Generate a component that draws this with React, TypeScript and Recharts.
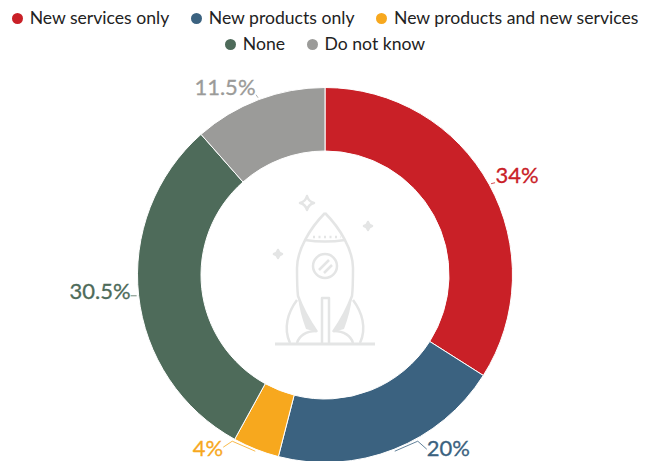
import { PieChart, Pie, Cell, Legend } from 'recharts';

const categories = ['New services only', 'New products only', 'New products and new services', 'None', 'Do not know'];
const values = [34, 20, 4, 30.5, 11.5];
const valueLabels = ['34%', '20%', '4%', '30.5%', '11.5%'];
const COLORS = ['#c92027', '#3b6280', '#f7a81e', '#4e6b5a', '#9b9b99'];

const data = categories.map((name, i) => ({ name, value: values[i], label: valueLabels[i] }));

const RADIAN = Math.PI / 180;
const FONT = 'Lato, sans-serif';
const ROCKET = '#e4e5e5';

// leader line bends and text placement, relative to the slice's outer edge midpoint
const leaders = [
    { line: [[4, -1]], text: [4.5, -9], anchor: 'start' },
    { line: [[23, -10], [32, -2]], text: [32, -3.5], anchor: 'start' },
    { line: [[-23, -10], [-32, -4]], text: [-32, -3.5], anchor: 'end' },
    { line: [[-6, 0]], text: [-6, -5.5], anchor: 'end' },
    { line: [[-2, -3]], text: [-2.5, -11], anchor: 'end' },
];

const renderLabel = ({ cx, cy, midAngle, outerRadius, index }: any) => {
    const r = outerRadius + 2;
    const x = cx + r * Math.cos(-midAngle * RADIAN);
    const y = cy + r * Math.sin(-midAngle * RADIAN);
    const l = leaders[index];
    const points = [[0, 0], ...l.line].map(([dx, dy]) => `${x + dx},${y + dy}`).join(' ');
    return (
        <g key={index}>
            <polyline points={points} fill="none" stroke={COLORS[index]} strokeWidth={0.8} />
            <text
                x={x + l.text[0]}
                y={y + l.text[1]}
                fill={COLORS[index]}
                stroke={COLORS[index]}
                strokeWidth={0.3}
                fontFamily={FONT}
                fontSize={22}
                textAnchor={l.anchor}
                dominantBaseline="central"
            >
                {data[index].label}
            </text>
        </g>
    );
};

const renderLegend = ({ payload }: any) => (
    <div style={{ display: 'flex', flexWrap: 'wrap', justifyContent: 'center', columnGap: 21.5, fontFamily: FONT, fontSize: 17.6, lineHeight: '26px', color: '#222' }}>
        {(payload || []).map((entry: any) => (
            <span key={entry.value} style={{ display: 'inline-flex', alignItems: 'center', whiteSpace: 'nowrap' }}>
                <svg width={11} height={11} style={{ marginRight: 7 }}>
                    <circle cx={5.5} cy={5.5} r={5.5} fill={entry.color} />
                </svg>
                {entry.value}
            </span>
        ))}
    </div>
);

const star = (x: number, y: number, s: number) =>
    `M${x} ${y - s}Q${x + s * 0.2} ${y - s * 0.2} ${x + s} ${y}Q${x + s * 0.2} ${y + s * 0.2} ${x} ${y + s}Q${x - s * 0.2} ${y + s * 0.2} ${x - s} ${y}Q${x - s * 0.2} ${y - s * 0.2} ${x} ${y - s}Z`;

const Rocket = () => (
    <g fill="none" stroke={ROCKET} strokeWidth={2.5} strokeLinejoin="round">
        <path d="M325 213C310 228 297 250 297 268C297 280 297 288 298 296C303 310 310 322 317 332" />
        <path d="M325 213C340 228 353 250 353 268C353 280 353 288 352 296C347 310 340 322 333 332" />
        <path d="M305 240C318 242 332 242 345 240" />
        <path d="M313 237H341" strokeDasharray="2 3.5" />
        <circle cx={325} cy={266} r={12} />
        <path d="M319 270L329 260M324 273L332 265" />
        <path d="M322 343V298H329V343" />
        <path d="M297 300C288 312 283 328 290 343" />
        <path d="M353 300C362 312 367 328 360 343" />
        <path d="M297 343C299 336 306 331 316 331" />
        <path d="M353 343C351 336 344 331 334 331" />
        <path d="M275 344H375" strokeWidth={3} />
        <path d="M298 296C303 310 310 322 317 332L306 329C302 318 299 308 298 296Z" fill={ROCKET} stroke="none" />
        <path d="M352 296C347 310 340 322 333 332L344 329C348 318 351 308 352 296Z" fill={ROCKET} stroke="none" />
        <path d={star(307, 203, 7)} />
        <path d={star(368, 226, 4)} fill={ROCKET} />
        <path d={star(278, 254, 4)} fill={ROCKET} />
    </g>
);

const App = () => {
    return (
        <div style={{ position: 'absolute', left: 0, top: 0, width: 650, height: 461, overflow: 'hidden' }}>
            <PieChart width={650} height={461} margin={{ top: 0, right: 0, bottom: 0, left: 0 }}>
                <Legend verticalAlign="top" itemSorter={null} content={renderLegend} wrapperStyle={{ left: 0, top: 5, width: 650 }} />
                <Pie
                    data={data}
                    dataKey="value"
                    nameKey="name"
                    cx={325}
                    cy={223}
                    innerRadius={124}
                    outerRadius={187.5}
                    startAngle={90}
                    endAngle={-270}
                    stroke="#fff"
                    strokeWidth={1}
                    labelLine={false}
                    label={renderLabel}
                    isAnimationActive={false}
                >
                    {data.map((entry, index) => (
                        <Cell key={`cell-${index}`} fill={COLORS[index]} />
                    ))}
                </Pie>
                <Rocket />
            </PieChart>
        </div>
    );
};

export default App;
